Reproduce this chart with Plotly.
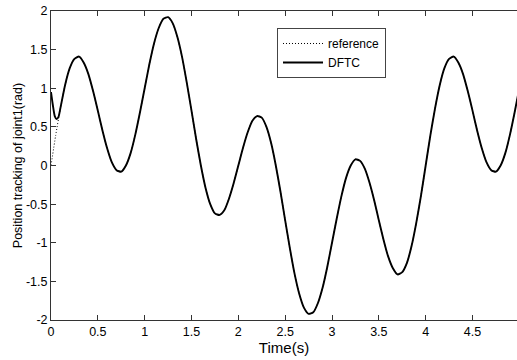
import plotly.graph_objects as go

# Time axis (s), step 0.05
time = [round(i * 0.05, 2) for i in range(101)]

# Reference trajectory
reference = [
    0.00, 0.39, 0.74, 1.04, 1.26, 1.38, 1.41, 1.33, 1.18, 0.96,
    0.71, 0.45, 0.22, 0.04, -0.06, -0.08, 0.00, 0.16, 0.40, 0.69,
    1.00, 1.31, 1.58, 1.78, 1.90, 1.92, 1.84, 1.66, 1.40, 1.07,
    0.71, 0.34, 0.00, -0.29, -0.50, -0.62, -0.64, -0.58, -0.43, -0.23,
    0.00, 0.23, 0.43, 0.58, 0.64, 0.62, 0.50, 0.29, 0.00, -0.34,
    -0.71, -1.07, -1.40, -1.66, -1.84, -1.92, -1.90, -1.78, -1.58, -1.31,
    -1.00, -0.69, -0.40, -0.16, 0.00, 0.08, 0.06, -0.04, -0.22, -0.45,
    -0.71, -0.96, -1.18, -1.33, -1.41, -1.38, -1.26, -1.04, -0.74, -0.39,
    0.00, 0.39, 0.74, 1.04, 1.26, 1.38, 1.41, 1.33, 1.18, 0.96,
    0.71, 0.45, 0.22, 0.04, -0.06, -0.08, 0.00, 0.16, 0.40, 0.69,
    1.00,
]

# DFTC response: initial transient, then it follows the reference
dftc_start_time = [0.0, 0.02, 0.04, 0.06, 0.08]
dftc_start_vals = [0.95, 0.78, 0.64, 0.60, 0.63]
dftc_time = dftc_start_time + time[2:]
dftc = dftc_start_vals + reference[2:]

x_ticks = [0, 0.5, 1, 1.5, 2, 2.5, 3, 3.5, 4, 4.5]
x_tick_labels = ["0", "0.5", "1", "1.5", "2", "2.5", "3", "3.5", "4", "4.5"]
y_ticks = [-2, -1.5, -1, -0.5, 0, 0.5, 1, 1.5, 2]
y_tick_labels = ["-2", "-1.5", "-1", "-0.5", "0", "0.5", "1", "1.5", "2"]

FONT = "Liberation Sans, Arial, Helvetica, sans-serif"

fig = go.Figure()
fig.add_trace(go.Scatter(
    x=time, y=reference, mode="lines", name="reference",
    line=dict(color="black", width=1, dash="1px,2px", shape="spline", smoothing=0.6),
))
fig.add_trace(go.Scatter(
    x=dftc_time, y=dftc, mode="lines", name="DFTC",
    line=dict(color="black", width=1.9, shape="spline", smoothing=0.6),
))

fig.update_layout(
    width=517, height=360,
    margin=dict(l=51, r=0, t=11, b=40),
    paper_bgcolor="white", plot_bgcolor="white",
    font=dict(family=FONT, size=12, color="black"),
    showlegend=True,
    legend=dict(
        x=0.485, y=0.945, xanchor="left", yanchor="top",
        bgcolor="white", bordercolor="#444", borderwidth=1,
        font=dict(family=FONT, size=12, color="black"),
        itemwidth=40, tracegroupgap=0,
    ),
    xaxis=dict(
        range=[0, 4.975], tickmode="array", tickvals=x_ticks, ticktext=x_tick_labels,
        ticks="inside", ticklen=5, tickcolor="#333", showline=True, linecolor="#333",
        linewidth=1, mirror="ticks", showgrid=False, zeroline=False,
        title=dict(text="Time(s)", font=dict(family=FONT, size=15), standoff=1),
        tickfont=dict(family=FONT, size=12.5),
    ),
    yaxis=dict(
        range=[-2, 2], tickmode="array", tickvals=y_ticks, ticktext=y_tick_labels,
        ticks="inside", ticklen=5, tickcolor="#333", showline=True, linecolor="#333",
        linewidth=1, showgrid=False, zeroline=False,
        title=dict(text="Position tracking of joint1(rad)", font=dict(family=FONT, size=12.5), standoff=0),
        tickfont=dict(family=FONT, size=12.5),
    ),
    yaxis2=dict(
        range=[-2, 2], overlaying="y", side="right", tickmode="array", tickvals=y_ticks,
        ticks="inside", ticklen=5, tickcolor="#333", showticklabels=False,
        showline=False, showgrid=False, zeroline=False,
    ),
)

fig.write_html("out.html")
